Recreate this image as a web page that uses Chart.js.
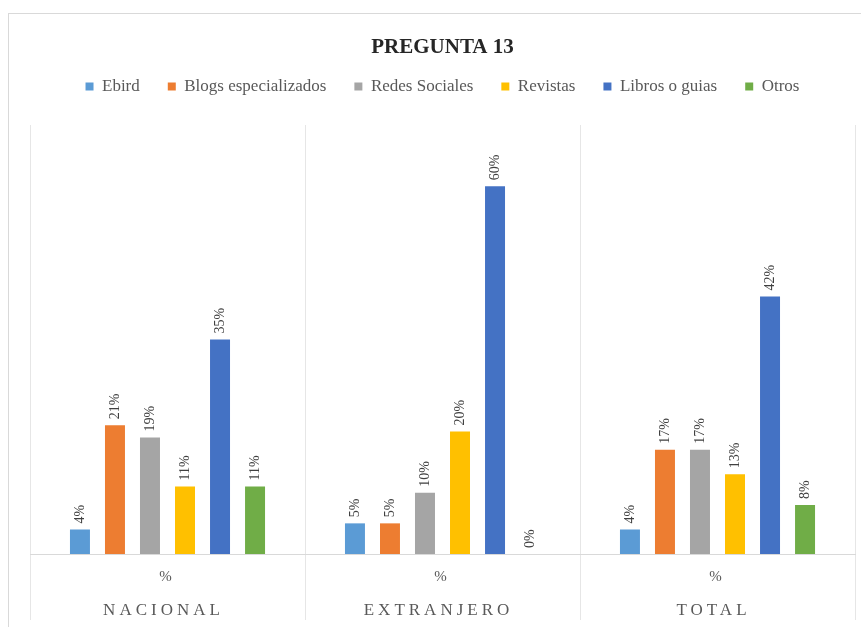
<!DOCTYPE html>
<html>
<head>
<meta charset="utf-8">
<script src="https://cdn.jsdelivr.net/npm/chart.js@4.4.1/dist/chart.umd.min.js"></script>
<style>
  body { margin: 0; background: #fff; }
  canvas { display: block; }
</style>
</head>
<body>
<canvas id="canvas-chart" width="861" height="627"></canvas>
<script>
const groups = ['NACIONAL', 'EXTRANJERO', 'TOTAL'];
const unitLabel = '%';
const seriesNames = ['Ebird', 'Blogs especializados', 'Redes Sociales', 'Revistas', 'Libros o guias', 'Otros'];
const seriesColors = ['#5B9BD5', '#ED7D31', '#A5A5A5', '#FFC000', '#4472C4', '#70AD47'];

// percentages per group: nacional, extranjero, total
const ebird = [4, 5, 4];
const blogs = [21, 5, 17];
const redes = [19, 10, 17];
const revistas = [11, 20, 13];
const libros = [35, 60, 42];
const otros = [11, 0, 8];
const seriesValues = [ebird, blogs, redes, revistas, libros, otros];

const serif = "'Liberation Serif', 'Times New Roman', serif";

// light frame around the whole chart
const framePlugin = {
    id: 'frame',
    beforeDraw(chart) {
        const ctx = chart.ctx;
        ctx.save();
        ctx.fillStyle = '#fff';
        ctx.fillRect(0, 0, chart.width, chart.height);
        ctx.strokeStyle = '#d9d9d9';
        ctx.lineWidth = 1;
        ctx.strokeRect(8.5, 13.5, chart.width + 10, chart.height + 10);
        ctx.restore();
    }
};

// rotated value labels above each bar
const valueLabels = {
    id: 'valueLabels',
    afterDatasetsDraw(chart) {
        const ctx = chart.ctx;
        ctx.save();
        ctx.font = '14px ' + serif;
        ctx.fillStyle = '#404040';
        ctx.textAlign = 'left';
        ctx.textBaseline = 'middle';
        chart.data.datasets.forEach((ds, i) => {
            chart.getDatasetMeta(i).data.forEach((bar, j) => {
                ctx.save();
                ctx.translate(bar.x, bar.y - 6);
                ctx.rotate(-Math.PI / 2);
                ctx.fillText(ds.data[j] + '%', 0, 0);
                ctx.restore();
            });
        });
        ctx.restore();
    }
};

// two-level category labels: "%" then the group name
const groupLabels = {
    id: 'groupLabels',
    afterDraw(chart) {
        const ctx = chart.ctx;
        const xs = chart.scales.x;
        ctx.save();
        ctx.fillStyle = '#595959';
        ctx.textAlign = 'center';
        ctx.textBaseline = 'middle';
        groups.forEach((g, i) => {
            const x = xs.getPixelForValue(i);
            ctx.font = '15px ' + serif;
            ctx.letterSpacing = '0px';
            ctx.fillText(unitLabel, x - 2, 577);
            ctx.font = '17px ' + serif;
            ctx.letterSpacing = '4px';
            ctx.fillText(g, x - 4, 611);
        });
        ctx.restore();
    }
};

const datasets = seriesNames.map((name, i) => ({
    label: name,
    data: seriesValues[i],
    backgroundColor: seriesColors[i],
    categoryPercentage: 0.764,
    barPercentage: 0.571
}));

const ctx = document.getElementById('canvas-chart').getContext('2d');
const myChart = new Chart(ctx, {
    type: 'bar',
    data: { labels: groups, datasets: datasets },
    options: {
        responsive: false,
        animation: false,
        layout: { padding: { top: 0, left: 30, right: 6, bottom: 7 } },
        plugins: {
            title: {
                display: true,
                text: 'PREGUNTA 13',
                color: '#262626',
                font: { family: serif, size: 21, weight: 'bold', lineHeight: 1 },
                padding: { top: 37, bottom: -8 }
            },
            legend: {
                display: true,
                labels: {
                    color: '#595959',
                    font: { family: serif, size: 17 },
                    boxWidth: 8,
                    boxHeight: 8,
                    padding: 28
                }
            },
            tooltip: { enabled: false }
        },
        scales: {
            x: {
                offset: true,
                grid: { offset: true, color: '#e6e6e6', tickLength: 66 },
                border: { color: '#d9d9d9' },
                ticks: { display: false }
            },
            // empty top axis, only keeps space between legend and bars
            xTop: {
                type: 'category',
                labels: groups,
                position: 'top',
                grid: { drawOnChartArea: false, tickLength: 20, color: 'rgba(0,0,0,0)' },
                border: { display: false },
                ticks: { display: false }
            },
            y: {
                display: false,
                min: 0,
                max: 70
            }
        }
    },
    plugins: [framePlugin, valueLabels, groupLabels]
});
</script>
</body>
</html>
